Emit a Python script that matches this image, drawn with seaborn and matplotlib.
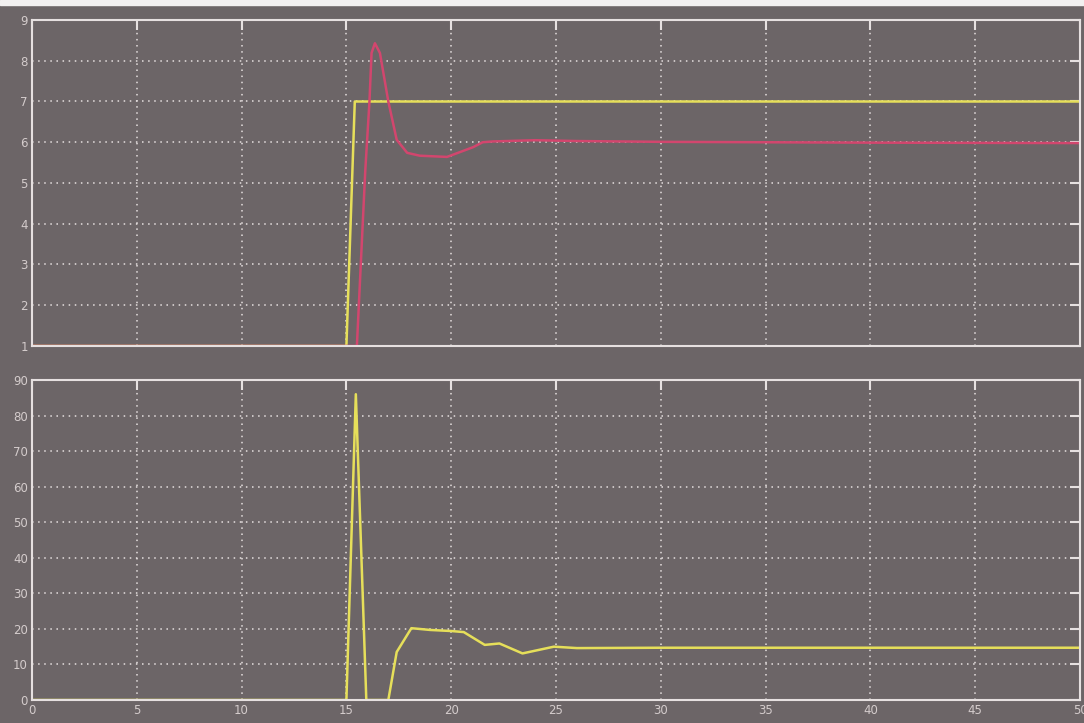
import numpy as np
import pandas as pd
import matplotlib
matplotlib.use("Agg")
import matplotlib.pyplot as plt
import seaborn as sns

# ---- data ----
top_set_t = [0, 15.0, 15.4, 50]
top_set_v = [1, 1, 7, 7]

top_out_t = [0, 15.5, 15.9, 16.1, 16.2, 16.36, 16.6, 17.0, 17.4, 17.9, 18.5, 19.8,
             21.05, 21.5, 22.0, 24.0, 26.0, 30.0, 40.0, 50.0]
top_out_v = [1, 1, 5.3, 7.0, 8.19, 8.43, 8.19, 7.0, 6.06, 5.74, 5.67, 5.64,
             5.88, 6.0, 6.02, 6.05, 6.03, 6.01, 5.99, 5.98]

bot_t = [0, 15.0, 15.45, 15.95, 17.0, 17.4, 18.1, 19.0, 20.0, 20.6, 21.6, 22.3,
         23.4, 24.9, 26.0, 30.0, 40.0, 50.0]
bot_v = [0, 0, 86, 0, 0, 13.5, 20.2, 19.7, 19.4, 19.1, 15.5, 15.9,
         13.1, 15.0, 14.6, 14.7, 14.7, 14.7]

x_ticks = [0, 5, 10, 15, 20, 25, 30, 35, 40, 45, 50]
top_yticks = [1, 2, 3, 4, 5, 6, 7, 8, 9]
bot_yticks = [0, 10, 20, 30, 40, 50, 60, 70, 80, 90]

BG = "#6c6567"
FG = "#e6e0e0"
TXT = "#d4cccc"
YEL = "#e6df5a"
RED = "#d2466e"

sns.set_style("dark", rc={"axes.facecolor": BG, "figure.facecolor": BG,
                          "axes.edgecolor": FG, "grid.color": FG})
plt.rcParams["font.family"] = ["DejaVu Sans"]

fig = plt.figure(figsize=(10.84, 7.23), dpi=100)
fig.patch.set_facecolor(BG)
W, H = 1084, 723
ax1 = fig.add_axes([32 / W, (H - 346) / H, (1080 - 32) / W, (346 - 20) / H])
ax2 = fig.add_axes([32 / W, (H - 700) / H, (1080 - 32) / W, (700 - 380) / H])

df_set = pd.DataFrame({"t": top_set_t, "v": top_set_v})
df_out = pd.DataFrame({"t": top_out_t, "v": top_out_v})
df_bot = pd.DataFrame({"t": bot_t, "v": bot_v})

sns.lineplot(data=df_set, x="t", y="v", ax=ax1, color=YEL, linewidth=1.8)
sns.lineplot(data=df_out, x="t", y="v", ax=ax1, color=RED, linewidth=1.8)
sns.lineplot(data=df_bot, x="t", y="v", ax=ax2, color=YEL, linewidth=1.8)

for ax, yt, ylim in [(ax1, top_yticks, (1, 9)), (ax2, bot_yticks, (0, 90))]:
    ax.set_facecolor(BG)
    ax.set_xlim(0, 50)
    ax.set_ylim(*ylim)
    ax.set_xticks(x_ticks)
    ax.set_yticks(yt)
    ax.set_yticklabels([str(v) for v in yt])
    ax.set_xlabel("")
    ax.set_ylabel("")
    ax.grid(True, color=FG, linestyle=(0, (1, 3)), linewidth=1.1)
    ax.set_axisbelow(True)
    for s in ax.spines.values():
        s.set_visible(True)
        s.set_color(FG)
        s.set_linewidth(1.5)
    ax.tick_params(axis="both", which="major", direction="in", length=7,
                   width=1.5, color=FG, labelcolor=TXT, labelsize=8.5,
                   top=True, right=True, pad=3)

ax1.tick_params(axis="x", labelbottom=False)
ax2.set_xticklabels([str(v) for v in x_ticks])

# thin light strip at the top edge of the photo
fig.patches.append(plt.Rectangle((0, (H - 5) / H), 1, 5 / H,
                                 transform=fig.transFigure,
                                 color="#f2f0f0", zorder=0))

fig.savefig("out.png", dpi=100, facecolor=BG)
